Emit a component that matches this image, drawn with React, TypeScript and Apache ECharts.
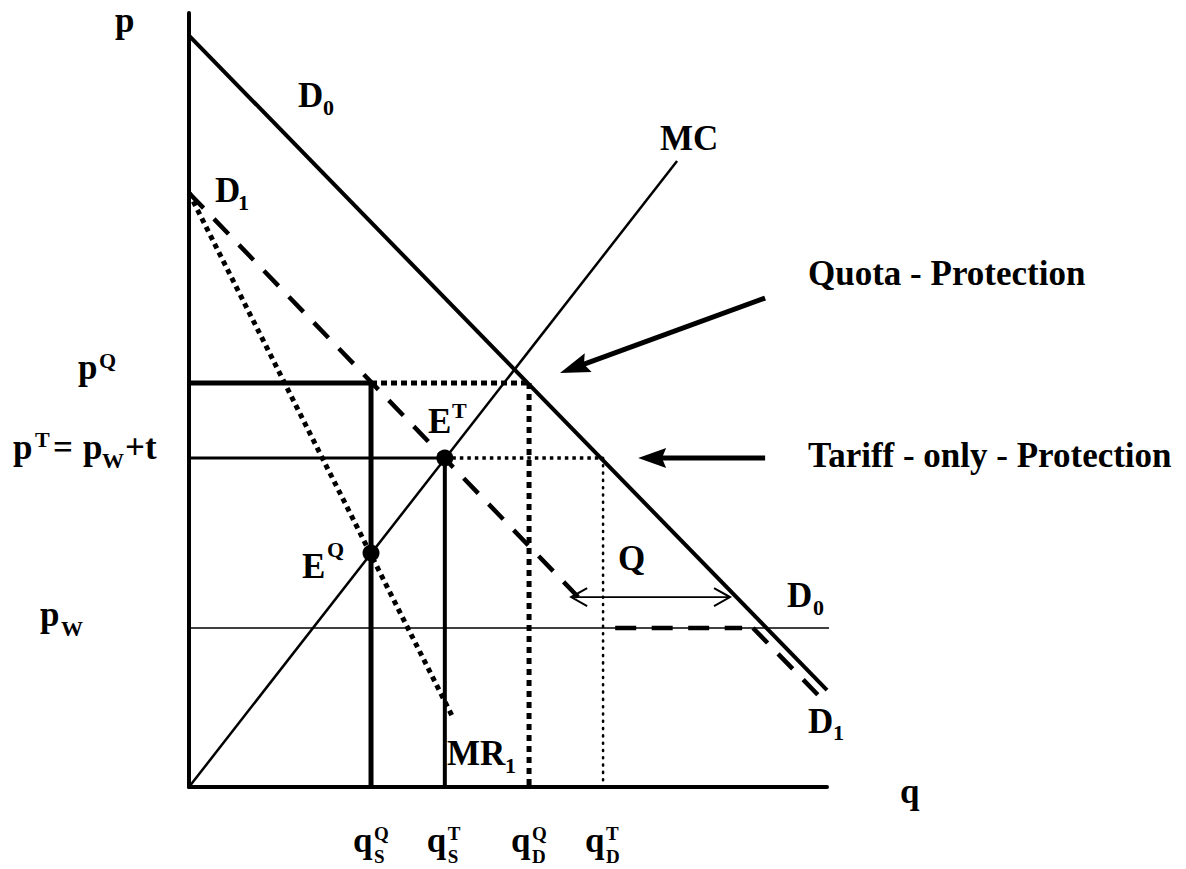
import React, { useEffect, useRef } from "react";
import * as echarts from "echarts";

// axis ranges (quantity q on x, price p on y)
const Q_MIN = 0;
const Q_MAX = 100;
const P_MIN = 0;
const P_MAX = 103;

// price levels
const P_W = 21.16;
const P_T = 43.78;
const P_Q = 53.76;

// quantity levels
const Q_S_Q = 28.53;
const Q_S_T = 40.1;
const Q_D_Q = 53.3;
const Q_D_T = 64.9;

// curves
const D0_LINE = [[0, 100], [100, 12.9]];
const D1_UPPER = [[0, 79.05], [62.5, 23.95]];
const D1_FLAT = [[66.8, P_W], [86.7, P_W]];
const D1_LOWER = [[88.4, P_W], [98.9, 11.98]];
const MR1_LINE = [[0, 79.05], [41.4, 9.18]];
const MC_LINE = [[0, 0], [76.5, 83.3]];
const PW_LINE = [[0, P_W], [107.2, P_W]];

// equilibria
const EQ_POINT = [Q_S_Q, 31.14];
const ET_POINT = [Q_S_T, P_T];

// annotation arrows [tail, tip]
const Q_GAP = [[59.9, 25.28], [84.8, 25.28]];
const QUOTA_ARROW = [[90.3, 65.07], [58.15, 55.1]];
const TARIFF_ARROW = [[90.3, P_T], [70.4, P_T]];

const FONT_FAMILY = '"Liberation Serif", "Times New Roman", Times, serif';
const BIG = 35;
const SMALL = 22;
const STACKED = 19;
const CENTRAL = 0.3375;

function label(text: string, x: number, baseline: number, size: number) {
  return {
    type: "text",
    x,
    y: baseline - CENTRAL * size,
    silent: true,
    z: 100,
    style: {
      text,
      fill: "#000",
      fontFamily: FONT_FAMILY,
      fontWeight: "bold",
      fontSize: size,
      align: "left",
      verticalAlign: "middle",
      textAlign: "left",
      textVerticalAlign: "middle",
    },
  };
}

function seg(data: number[][], width: number, dash?: number[] | string, cap?: string) {
  return {
    type: "line",
    data,
    symbol: "none",
    clip: false,
    silent: true,
    animation: false,
    lineStyle: { color: "#000", width, type: dash ?? "solid", cap: cap ?? "butt" },
  };
}

function solidArrow(tail: number[], tip: number[], width: number, headLen: number, headHalf: number) {
  const dx = tip[0] - tail[0];
  const dy = tip[1] - tail[1];
  const len = Math.hypot(dx, dy);
  const ux = dx / len, uy = dy / len;
  const nx = -uy, ny = ux;
  const bx = tip[0] - ux * headLen, by = tip[1] - uy * headLen;
  const notch = headLen * 0.15;
  const mx = bx + ux * notch, my = by + uy * notch;
  return [
    {
      type: "line",
      silent: true,
      z: 50,
      shape: { x1: tail[0], y1: tail[1], x2: mx + ux * 2, y2: my + uy * 2 },
      style: { stroke: "#000", lineWidth: width },
    },
    {
      type: "polygon",
      silent: true,
      z: 50,
      shape: {
        points: [
          [tip[0], tip[1]],
          [bx + nx * headHalf, by + ny * headHalf],
          [mx, my],
          [bx - nx * headHalf, by - ny * headHalf],
        ],
      },
      style: { fill: "#000" },
    },
  ];
}

function openHead(tip: number[], from: number[], len: number, half: number) {
  const dx = tip[0] - from[0];
  const dy = tip[1] - from[1];
  const l = Math.hypot(dx, dy);
  const ux = dx / l, uy = dy / l;
  const nx = -uy, ny = ux;
  const bx = tip[0] - ux * len, by = tip[1] - uy * len;
  return {
    type: "polyline",
    silent: true,
    z: 50,
    shape: {
      points: [
        [bx + nx * half, by + ny * half],
        [tip[0], tip[1]],
        [bx - nx * half, by - ny * half],
      ],
    },
    style: { stroke: "#000", lineWidth: 2, fill: null },
  };
}

export default function App() {
  const ref = useRef<HTMLDivElement>(null);

  useEffect(() => {
    const chart = echarts.init(ref.current!, null, { renderer: "svg" });
    const axisCommon = {
      type: "value",
      axisTick: { show: false },
      axisLabel: { show: false },
      splitLine: { show: false },
      axisLine: { show: true, lineStyle: { color: "#000", width: 4 } },
    };
    chart.setOption({
      animation: false,
      backgroundColor: "#fff",
      grid: { left: 189, top: 13, width: 638, height: 774, containLabel: false },
      xAxis: { ...axisCommon, min: Q_MIN, max: Q_MAX },
      yAxis: { ...axisCommon, min: P_MIN, max: P_MAX },
      series: [
        seg(PW_LINE, 1.5),
        seg(D0_LINE, 4),
        seg(D1_UPPER, 4.5, [21, 15]),
        seg(D1_FLAT, 4.5, [21, 15.5]),
        seg(D1_LOWER, 4.5, [21, 15]),
        seg(MR1_LINE, 5, [5, 4.5]),
        seg(MC_LINE, 2.5),
        seg([[0, P_Q], [Q_S_Q, P_Q]], 5),
        seg([[Q_S_Q, P_Q], [Q_D_Q, P_Q]], 5, [6, 4]),
        seg([[Q_S_Q, P_Q], [Q_S_Q, 0]], 5),
        seg([[Q_D_Q, P_Q], [Q_D_Q, 0]], 5, [6, 5]),
        seg([[0, P_T], [Q_S_T, P_T]], 3),
        seg([[Q_S_T, P_T], [Q_D_T, P_T]], 3.5, [3.5, 4]),
        seg([[Q_S_T, P_T], [Q_S_T, 0]], 4),
        seg([[Q_D_T, P_T], [Q_D_T, 0]], 2.6, [1, 6.3], "round"),
        {
          type: "scatter",
          data: [EQ_POINT, ET_POINT],
          symbol: "circle",
          symbolSize: 17,
          silent: true,
          itemStyle: { color: "#000", opacity: 1 },
          z: 10,
        },
      ],
    });

    const toPx = (v: number[]) => chart.convertToPixel({ gridIndex: 0 }, v) as number[];
    const px = (q: number) => toPx([q, 0])[0];
    const py = (p: number) => toPx([0, p])[1];

    const qa = QUOTA_ARROW.map(toPx);
    const ta = TARIFF_ARROW.map(toPx);
    const qg = Q_GAP.map(toPx);

    const graphics: any[] = [
      ...solidArrow(qa[0], qa[1], 5, 30, 10),
      ...solidArrow(ta[0], ta[1], 5, 28, 10),
      {
        type: "line",
        silent: true,
        z: 50,
        shape: { x1: qg[0][0], y1: qg[0][1], x2: qg[1][0], y2: qg[1][1] },
        style: { stroke: "#000", lineWidth: 1.8 },
      },
      openHead(qg[0], qg[1], 16, 9),
      openHead(qg[1], qg[0], 16, 9),

      label("p", 115, 32, BIG),
      label("q", 900, 803, BIG),
      label("D", 298, 107, BIG),
      label("0", 323, 115, SMALL),
      label("D", 215, 202, BIG),
      label("1", 238, 210, SMALL),
      label("MC", 660, 150, BIG),
      label("Quota - Protection", 808, 285, BIG),
      label("Tariff - only - Protection", 808, 467, BIG),

      label("p", 78, py(P_Q) - 4, BIG),
      label("Q", 99, py(P_Q) - 15, SMALL),
      label("p", 13, py(P_T) + 1, BIG),
      label("T", 35, py(P_T) - 11, SMALL),
      label("=", 53, py(P_T) + 1, BIG),
      label("p", 83, py(P_T) + 1, BIG),
      label("W", 102, py(P_T) + 10, SMALL),
      label("+t", 125, py(P_T) + 1, BIG),
      label("p", 40, py(P_W) - 2, BIG),
      label("W", 61, py(P_W) + 8, SMALL),

      label("E", 428, 433, BIG),
      label("T", 452, 418, SMALL),
      label("E", 302, 578, BIG),
      label("Q", 327, 557, SMALL),
      label("MR", 447, 765, BIG),
      label("1", 505, 773, SMALL),
      label("Q", 618, 570, BIG),
      label("D", 787, 607, BIG),
      label("0", 813, 615, SMALL),
      label("D", 808, 733, BIG),
      label("1", 833, 740, SMALL),
    ];

    const ticks: [number, string, string][] = [
      [Q_S_Q, "S", "Q"],
      [Q_S_T, "S", "T"],
      [Q_D_Q, "D", "Q"],
      [Q_D_T, "D", "T"],
    ];
    ticks.forEach(([q, sub, sup]) => {
      const x = px(q) - 18;
      graphics.push(label("q", x, 852, BIG));
      graphics.push(label(sub, x + 21, 863, STACKED));
      graphics.push(label(sup, x + 21, 840, STACKED));
    });

    chart.setOption({ graphic: graphics });

    return () => chart.dispose();
  }, []);

  return (
    <div
      ref={ref}
      style={{ position: "fixed", left: 0, top: 0, width: 1186, height: 869, background: "#fff" }}
    />
  );
}
